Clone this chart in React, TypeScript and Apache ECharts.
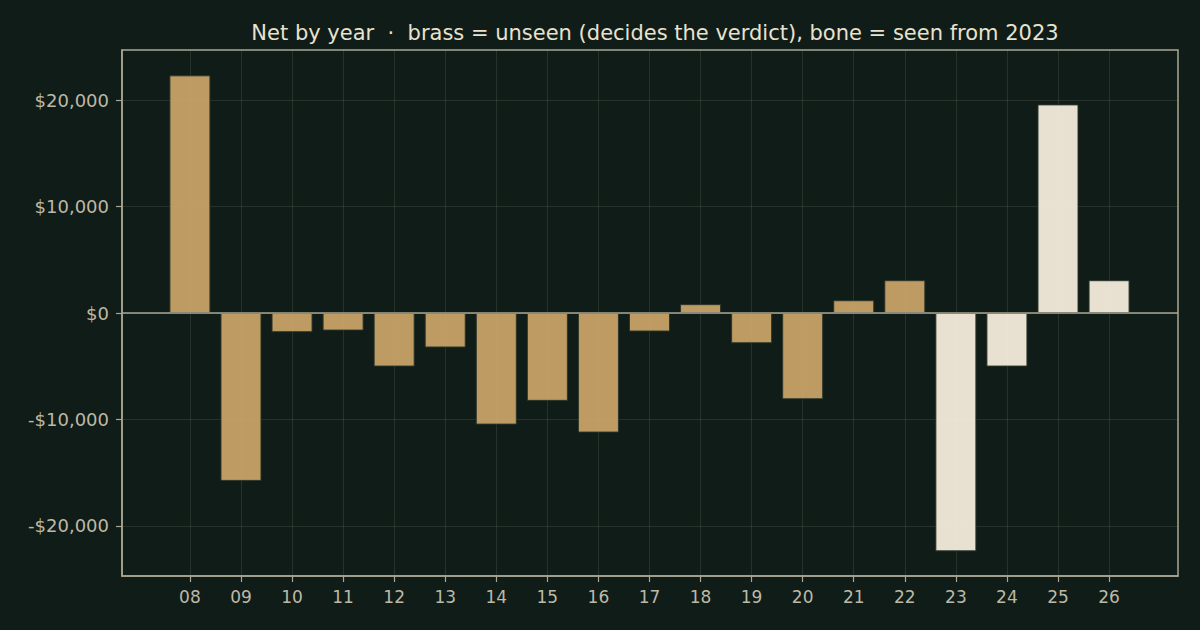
import React, { useEffect, useRef } from 'react'
import * as echarts from 'echarts'

// years (two-digit) and net per year
const years = ['08', '09', '10', '11', '12', '13', '14', '15', '16', '17', '18', '19', '20', '21', '22', '23', '24', '25', '26']
const net = [22320, -15770, -1800, -1650, -5030, -3240, -10480, -8250, -11230, -1740, 830, -2840, -8100, 1200, 3080, -22380, -5030, 19590, 3080]
const seenFrom = '23'
const yTicks = [-20000, -10000, 0, 10000, 20000]

const BG = '#101c17'
const BRASS = '#c9a468'
const BONE = '#f5eedd'
const SPINE = '#aaa694'
const LABEL = '#bdb9a7'
const GRID = 'rgba(200, 200, 180, 0.13)'

const fmtMoney = (v: number) => {
  const s = '$' + Math.abs(v).toLocaleString('en-US')
  return v < 0 ? '-' + s : s
}

export default function App(): JSX.Element {
  const ref = useRef<HTMLDivElement>(null)

  useEffect(() => {
    if (!ref.current) return
    const chart = echarts.init(ref.current, null, { renderer: 'svg' })
    const idx = years.map((_, i) => i)
    const seenIdx = years.indexOf(seenFrom)

    chart.setOption({
      animation: false,
      backgroundColor: BG,
      textStyle: { fontFamily: 'DejaVu Sans' },
      title: {
        text: 'Net by year  ·  brass = unseen (decides the verdict), bone = seen from 2023',
        left: 650,
        textAlign: 'center',
        top: 17,
        textStyle: { color: '#e8e2cf', fontSize: 21, fontWeight: 'normal', fontFamily: 'DejaVu Sans' },
      },
      grid: {
        left: 122,
        right: 22,
        top: 50,
        bottom: 54,
        show: true,
        borderColor: SPINE,
        borderWidth: 1.5,
        backgroundColor: 'transparent',
      },
      xAxis: {
        type: 'value',
        min: -1.33,
        max: 19.35,
        axisLine: { show: true, onZero: false, lineStyle: { color: SPINE, width: 1.5 } },
        axisTick: { show: true, length: 6, customValues: idx, lineStyle: { color: SPINE, width: 1.2 } },
        axisLabel: {
          customValues: idx,
          color: LABEL,
          fontSize: 17,
          margin: 12,
          fontFamily: 'DejaVu Sans',
          formatter: (v: number) => years[Math.round(v)] ?? '',
        },
        splitLine: { show: true, lineStyle: { color: GRID, width: 1 } },
      },
      yAxis: {
        type: 'value',
        min: -24700,
        max: 24700,
        axisLine: { show: true, onZero: false, lineStyle: { color: SPINE, width: 1.5 } },
        axisTick: { show: true, length: 6, customValues: yTicks, lineStyle: { color: SPINE, width: 1.2 } },
        axisLabel: {
          customValues: yTicks,
          color: LABEL,
          fontSize: 18,
          margin: 13,
          fontFamily: 'DejaVu Sans',
          formatter: (v: number) => fmtMoney(v),
        },
        splitLine: { show: true, lineStyle: { color: GRID, width: 1 } },
      },
      series: [
        {
          type: 'bar',
          barWidth: 41,
          data: net.map((v, i) => ({
            value: [i, v],
            itemStyle: {
              color: i >= seenIdx ? BONE : BRASS,
              opacity: 0.94,
              borderColor: '#2b3529',
              borderWidth: 1,
            },
          })),
          markLine: {
            silent: true,
            symbol: 'none',
            label: { show: false },
            lineStyle: { color: SPINE, width: 1.6, type: 'solid' },
            data: [{ yAxis: 0 }],
          },
        },
      ],
    })

    return () => {
      chart.dispose()
    }
  }, [])

  return <div ref={ref} style={{ position: 'fixed', left: 0, top: 0, width: 1200, height: 630 }} />
}
